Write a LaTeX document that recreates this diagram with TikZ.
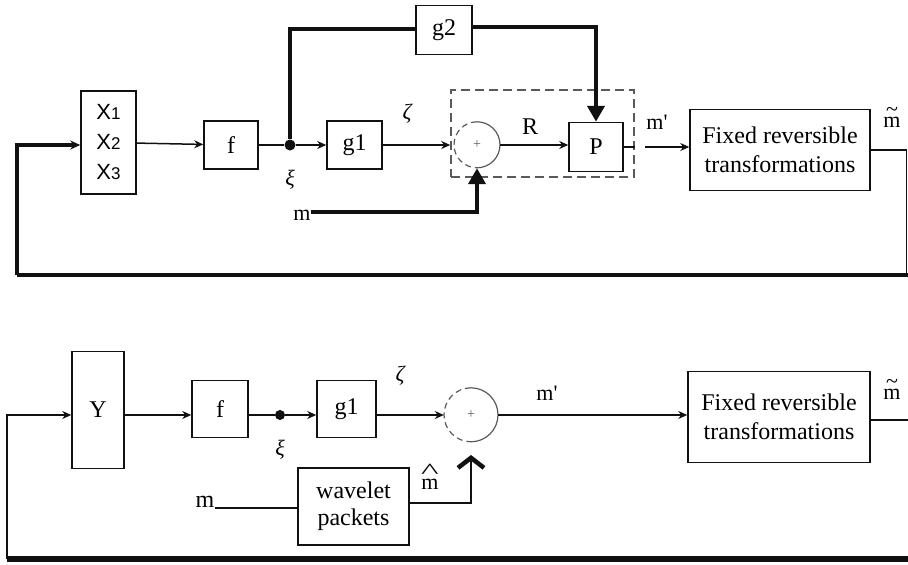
\documentclass[tikz,border=0pt]{standalone}
\usepackage{fontspec}
\setmainfont{Liberation Serif}
\newfontfamily\xsans{Liberation Sans}
\usetikzlibrary{arrows.meta,positioning,calc}
\definecolor{ink}{HTML}{111111}
\definecolor{inkgray}{HTML}{5A5A5A}
\newcommand{\xsub}[1]{{\fontsize{17}{17}\selectfont #1}}
\newcommand{\accm}[2]{\ooalign{m\cr\hidewidth\raisebox{#2}{#1}\hidewidth\cr}}
\tikzset{
  blk/.style={draw=ink,fill=white,line width=1.5pt,align=center,
              inner sep=2pt,font=\fontsize{24}{29}\selectfont},
  sumnode/.style={circle,minimum size=46pt,inner sep=0pt,
                  font=\fontsize{14}{14}\selectfont\color{inkgray}},
  jdot/.style={circle,fill=ink,inner sep=0pt,minimum size=11pt},
  lbl/.style={font=\fontsize{22}{22}\selectfont,inner sep=0pt},
  greek/.style={lbl,font=\fontsize{22}{22}\selectfont\itshape},
  wire/.style={draw=ink,line width=1.5pt},
  sig/.style={wire,-{Stealth[length=9pt,width=8pt]}},
  heavy/.style={draw=ink,line width=4.5pt},
  heavysig/.style={heavy,-{Triangle[length=16pt,width=17pt]}},
  dashbox/.style={draw=inkgray,line width=1.5pt,dash pattern=on 9pt off 5pt}
}
\begin{document}
\begin{tikzpicture}[x=1pt,y=-1pt]
  \useasboundingbox (0,0) rectangle (908,565);
  % upper scheme
  \node[blk,font=\xsans\fontsize{22}{30}\selectfont,minimum width=55pt,minimum height=103pt] (xin) at (108.5,142.5)
    {X\xsub{1}\\X\xsub{2}\\X\xsub{3}};
  \node[blk,minimum width=54pt,minimum height=48pt] (fa) at (231,145) {f};
  \node[jdot] (jna) at (290,145) {};
  \node[blk,minimum width=55pt,minimum height=48pt] (gonea) at (354.5,145) {g1};
  \node[dashbox,minimum width=183pt,minimum height=87pt] (dbox) at (542.5,133.5) {};
  \node[sumnode] (suma) at (477,145) {+};
  \draw[inkgray,line width=1.2pt] (suma.north) arc[start angle=90,end angle=-90,radius=23pt];
  \draw[inkgray,line width=1.2pt,dash pattern=on 6pt off 4pt] (suma.north) arc[start angle=90,end angle=270,radius=23pt];
  \node[blk,minimum width=54pt,minimum height=49pt] (pa) at (596,147) {P};
  \node[blk,minimum width=56pt,minimum height=49pt] (gtwo) at (444,30) {g2};
  \node[blk,minimum width=180pt,minimum height=81pt] (fixa) at (780,150) {Fixed reversible\\transformations};
  \node[lbl] (mtop) at (302,215) {m};
  \node[greek] at (290,180) {ξ};
  \node[greek] at (407,114) {ζ};
  \node[lbl,font=\fontsize{24}{24}\selectfont] at (530,127) {R};
  \node[lbl] at (657,122) {m\textquotesingle};
  \node[lbl] at (892,122) {\accm{\~{}}{0.5em}};
  \coordinate (outa) at (645,147);
  \coordinate (rea) at (906.5,150);
  \coordinate (loa) at (17,275);
  \draw[sig] (xin) -- (fa);
  \draw[wire] (fa) -- (jna);
  \draw[sig] (jna) -- (gonea);
  \draw[sig] (gonea) -- (dbox.west |- gonea);
  \draw[sig] (suma) -- (pa.west |- suma);
  \draw[heavy] (jna) |- (gtwo.west |- 0,29);
  \draw[heavysig] (gtwo.east |- 0,27) -| (pa.north);
  \draw[heavysig] (mtop.east |- 0,212) -| (suma.south);
  \draw[wire] (pa.east) -- (dbox.east |- pa.east);
  \draw[sig] (outa) -- (fixa.west |- outa);
  \draw[wire] (fixa.east) -- (rea) -- (rea |- loa);
  \draw[heavy] (908,275) -- (loa);
  \draw[heavy,-{Stealth[length=10pt,width=9pt]}] (loa) |- (xin.west |- 0,145);
  % lower scheme
  \node[blk,minimum width=52pt,minimum height=117pt] (ybox) at (98,410) {Y};
  \node[blk,minimum width=56pt,minimum height=57pt] (fb) at (220,409) {f};
  \node[jdot,minimum size=10pt] (jnb) at (280,415) {};
  \node[blk,minimum width=59pt,minimum height=57pt] (goneb) at (346.5,409) {g1};
  \node[sumnode,minimum size=54pt] (sumb) at (471,415) {+};
  \draw[inkgray,line width=1.2pt] (sumb.north) arc[start angle=90,end angle=-90,radius=27pt];
  \draw[inkgray,line width=1.2pt,dash pattern=on 6pt off 4pt] (sumb.north) arc[start angle=90,end angle=270,radius=27pt];
  \node[blk,minimum width=182pt,minimum height=91pt] (fixb) at (779,417) {Fixed reversible\\transformations};
  \node[blk,font=\fontsize{24}{27}\selectfont,minimum width=111pt,minimum height=77pt] (wav) at (353.5,506.5) {wavelet\\packets};
  \node[lbl,font=\fontsize{24}{24}\selectfont] (mbot) at (205,502) {m};
  \node[greek] at (280,450) {ξ};
  \node[greek] at (400,376) {ζ};
  \node[lbl] at (547,393) {m\textquotesingle};
  \node[lbl] at (892,394) {\accm{\~{}}{0.5em}};
  \node[lbl] at (430,484) {\accm{\scalebox{1.7}[1]{\^{}}}{0.5em}};
  \coordinate (tipb) at (471,455);
  \coordinate (reb) at (908,420);
  \coordinate (lob) at (7,559);
  \draw[sig] (ybox.east |- jnb) -- (fb.west |- jnb);
  \draw[wire] (fb.east |- jnb) -- (jnb);
  \draw[sig] (jnb) -- (goneb.west |- jnb);
  \draw[sig] (goneb.east |- jnb) -- (sumb.west);
  \draw[sig] (sumb.east) -- (fixb.west |- sumb);
  \draw[wire] (mbot.east |- 0,508) -- (wav.west |- 0,508);
  \draw[wire,-{Straight Barb[length=10pt,width=26pt,line width=4.5pt]}] (wav.east |- 0,503) -| (tipb);
  \draw[wire] (fixb.east |- reb) -- (reb);
  \draw[draw=ink,line width=6pt] (reb |- lob) -- (lob);
  \draw[sig] (lob) |- (ybox.west |- jnb);
\end{tikzpicture}
\end{document}
